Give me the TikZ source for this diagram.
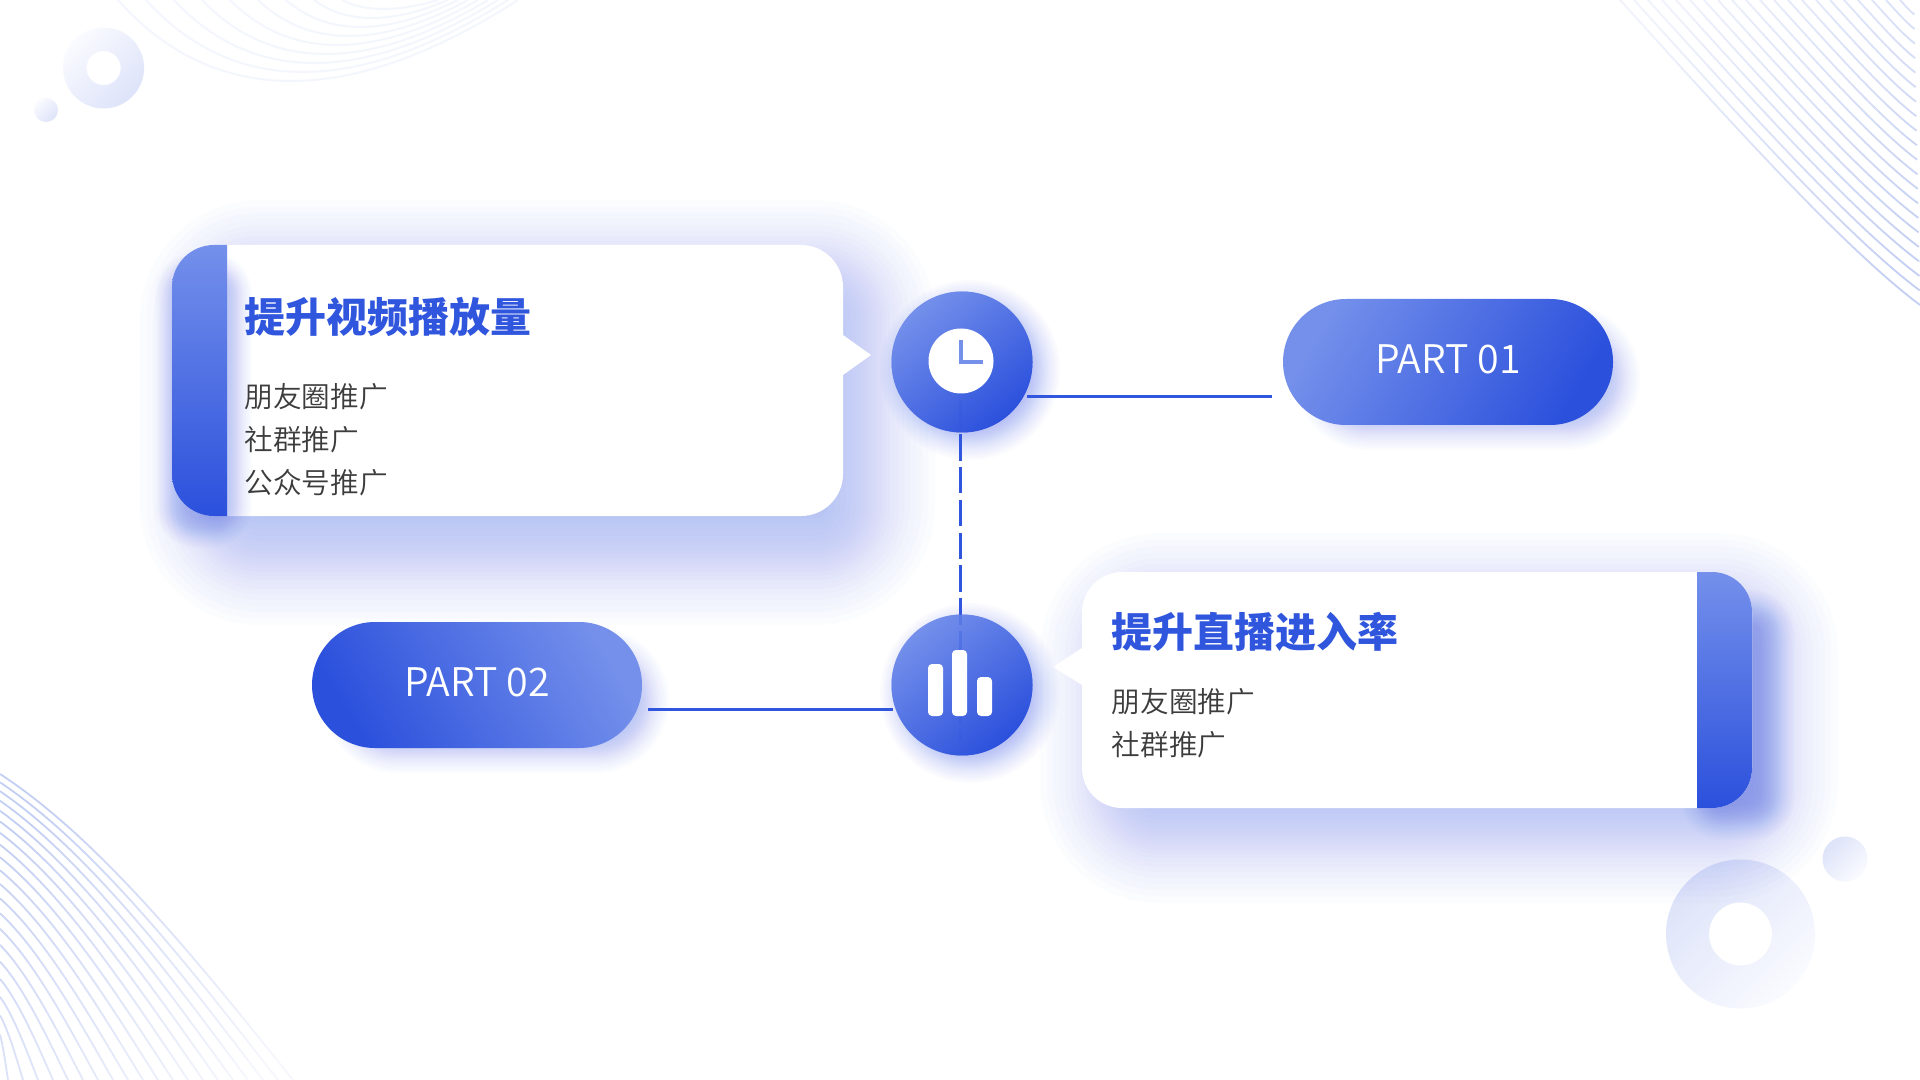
\documentclass[tikz,border=0pt]{standalone}
\usepackage{fontspec}
\newfontfamily\cjk{Noto Sans CJK SC}
\newfontfamily\cjklight{Noto Sans CJK SC DemiLight}
\usetikzlibrary{fadings}
\definecolor{deepblue}{HTML}{2B50DC}
\definecolor{paleblue}{HTML}{7490EB}
\definecolor{linkblue}{HTML}{3056DD}
\definecolor{glowblue}{HTML}{3A5CFF}
\definecolor{glowsoft}{HTML}{3A5CE0}
\definecolor{wireblue}{HTML}{C4CFF4}
\definecolor{arcblue}{HTML}{F4F6FE}
\definecolor{decoa}{HTML}{FAFBFF}
\definecolor{decob}{HTML}{DDE3F9}
\definecolor{bodygray}{HTML}{3C3C3C}
\tikzset{
  dotnode/.style={circle,shade,top color=paleblue,bottom color=deepblue,shading angle=40,minimum size=1.41cm,inner sep=0pt,outer sep=0pt},
  pillnode/.style={rectangle,shade,rounded corners=.63cm,minimum width=3.3cm,minimum height=1.26cm,inner sep=0pt,outer sep=0pt,text=white,font=\fontsize{11.2}{13}\selectfont\cjklight},
  titletext/.style={right,inner sep=0pt,text=linkblue,font=\fontsize{11.66}{14}\selectfont\cjk\bfseries},
  bodytext/.style={right,inner sep=0pt,align=left,text=bodygray,font=\fontsize{8.15}{12.23}\selectfont\cjklight},
  linkline/.style={linkblue,line width=.03cm},
  wireline/.style={wireblue,line width=.018cm},
}
% x0 y0 x1 y1 blur radius alpha
\newcommand{\softglow}[7]{%
  \foreach \i in {0,...,24}{
    \pgfmathsetmacro\off{#5*(\i/24+.05*sin(15*\i))}
    \pgfmathsetmacro\rr{max(#6-\off,0.02)}
    \ifodd\i\colorlet{glowtone}{glowblue}\else\colorlet{glowtone}{glowsoft}\fi
    \fill[glowtone,opacity=#7,rounded corners=\rr cm] ({#1+\off},{#2-\off}) rectangle ({#3-\off},{#4+\off});
  }}
\begin{document}
\begin{tikzpicture}[scale=1]
    \useasboundingbox (0,0) rectangle (19.2,-10.8);
    \fill[white] (0,0) rectangle (19.2,-10.8);

    \foreach \k in {0,...,8}{
    \pgfmathsetmacro\xa{1.18+.28*\k}
    \pgfmathsetmacro\xb{5.18-.1*\k}
    \pgfmathsetmacro\dep{(.81-.09*\k)/.75}
    \draw[arcblue,line width=.02cm] (\xa,0) .. controls ({\xa+.24*(\xb-\xa)},-\dep) and ({\xa+.58*(\xb-\xa)},-\dep) .. (\xb,0);
    }
    \foreach \k in {0,...,20}{
    \pgfmathsetmacro\s{1-\k/21}
    \pgfmathsetmacro\xa{16.2+.14*\k}
    \draw[wireline] (\xa,0) .. controls ({\xa+\s*1.0},{-\s*1.1}) and ({\xa+\s*2.2},{-\s*2.45}) .. ({\xa+\s*3.0},{-\s*3.05});
    }
    \foreach \k in {0,...,19}{
    \pgfmathsetmacro\ya{7.74+.08*\k+.003*\k*\k}
    \pgfmathsetmacro\sx{(2.93-.15*\k)/2.93}
    \pgfmathsetmacro\sy{(10.8-\ya)/3.06}
    \draw[wireline] (0,-\ya) .. controls ({\sx*1.0},{-\ya-\sy*.65}) and ({\sx*2.0},{-\ya-\sy*1.9}) .. ({\sx*2.93},-10.8);
    }
    \fill[white,opacity=.75,path fading=east,fading angle=-45] (15.9,.1) rectangle (19.3,-3.4);
    \fill[white,opacity=.85,path fading=west,fading angle=-45] (-.1,-7.6) rectangle (3.4,-10.9);

    \shade[even odd rule,top color=decoa,bottom color=decob,shading angle=45] (1.036,-.68) circle (.405) (1.036,-.68) circle (.171);
    \shade[top color=decoa,bottom color=decob,shading angle=45] (.46,-1.1) circle (.12);
    \shade[even odd rule,top color=decob,bottom color=decoa,shading angle=45] (17.405,-9.34) circle (.745) (17.405,-9.34) circle (.315);
    \shade[top color=decob,bottom color=decoa,shading angle=45] (18.45,-8.59) circle (.225);

    % upper card
    \softglow{1.4}{-2.0}{9.35}{-6.25}{1.2}{1.2}{.016}
    \fill[white,rounded corners=.42cm] (1.72,-2.45) rectangle (8.43,-5.16);
    \fill[white] (8.43,-3.35) -- (8.71,-3.55) -- (8.43,-3.75) -- cycle;
    \softglow{1.55}{-2.52}{2.52}{-5.48}{.3}{.42}{.016}
    \begin{scope}
    \clip[rounded corners=.42cm] (1.72,-2.45) rectangle (8.43,-5.16);
    \shade[top color=paleblue,bottom color=deepblue] (1.72,-2.45) rectangle (2.27,-5.16);
    \end{scope}
    \node[titletext] (titleup) at (2.44,-3.172) {提升视频播放量};
    \node[bodytext] (bodyup) at (2.44,-4.402) {朋友圈推广\\社群推广\\公众号推广};

    % lower card
    \softglow{10.4}{-5.33}{18.38}{-9.03}{1.2}{1.2}{.016}
    \softglow{16.8}{-5.9}{17.95}{-8.4}{.35}{.42}{.016}
    \fill[white,rounded corners=.40cm] (10.82,-5.72) rectangle (17.52,-8.08);
    \fill[white] (10.82,-6.48) -- (10.53,-6.67) -- (10.82,-6.85) -- cycle;
    \begin{scope}
    \clip[rounded corners=.40cm] (10.82,-5.72) rectangle (17.52,-8.08);
    \shade[top color=paleblue,bottom color=deepblue] (16.97,-5.72) rectangle (17.52,-8.08);
    \end{scope}
    \node[titletext] (titlelow) at (11.11,-6.322) {提升直播进入率};
    \node[bodytext] (bodylow) at (11.11,-7.232) {朋友圈推广\\社群推广};

    % pills and dots
    \softglow{12.95}{-3.05}{16.4}{-4.5}{.4}{.725}{.017}
    \softglow{3.24}{-6.28}{6.69}{-7.73}{.4}{.725}{.017}
    \softglow{8.80}{-2.80}{10.60}{-4.60}{.4}{.90}{.018}
    \softglow{8.80}{-6.03}{10.60}{-7.83}{.4}{.90}{.018}
    \node[pillnode,top color=paleblue,bottom color=deepblue,shading angle=60] (part1) at (14.48,-3.62) {\raisebox{.05cm}{PART 01}\hspace{.07cm}};
    \node[pillnode,top color=paleblue,bottom color=deepblue,shading angle=-60] (part2) at (4.77,-6.85) {\raisebox{.05cm}{PART 02}\hspace{.07cm}};
    \node[dotnode] (clockdot) at (9.62,-3.62) {};
    \node[dotnode] (bardot) at (9.62,-6.85) {};

    \path (clockdot.-29 -| part1.west) ++(-.11,0) coordinate (linkone);
    \path (bardot.200.8 -| part2.east) ++(.06,0) coordinate (linktwo);
    \draw[linkline] ([xshift=.03cm]clockdot.-29) -- (linkone);
    \draw[linkline] (linktwo) -- ([xshift=-.03cm]bardot.200.8);
    \draw[linkline,dash pattern=on .267cm off .062cm] ([xshift=-.015cm,yshift=-.39cm]clockdot.center) -- ([xshift=-.015cm,yshift=-.55cm]bardot.center);
    \shade[opacity=.7,top color=paleblue,bottom color=deepblue,shading angle=40] (clockdot.center) circle (.705);
    \shade[opacity=.7,top color=paleblue,bottom color=deepblue,shading angle=40] (bardot.center) circle (.705);

    \fill[white] (9.61,-3.61) circle (.325);
    \draw[paleblue,line width=.04cm] (9.61,-3.40) -- (9.61,-3.625) -- (9.83,-3.625);
    \fill[white,rounded corners=.04cm] (9.28,-6.64) rectangle (9.43,-7.16);
    \fill[white,rounded corners=.04cm] (9.52,-6.50) rectangle (9.67,-7.16);
    \fill[white,rounded corners=.04cm] (9.77,-6.77) rectangle (9.92,-7.16);
\end{tikzpicture}
\end{document}
